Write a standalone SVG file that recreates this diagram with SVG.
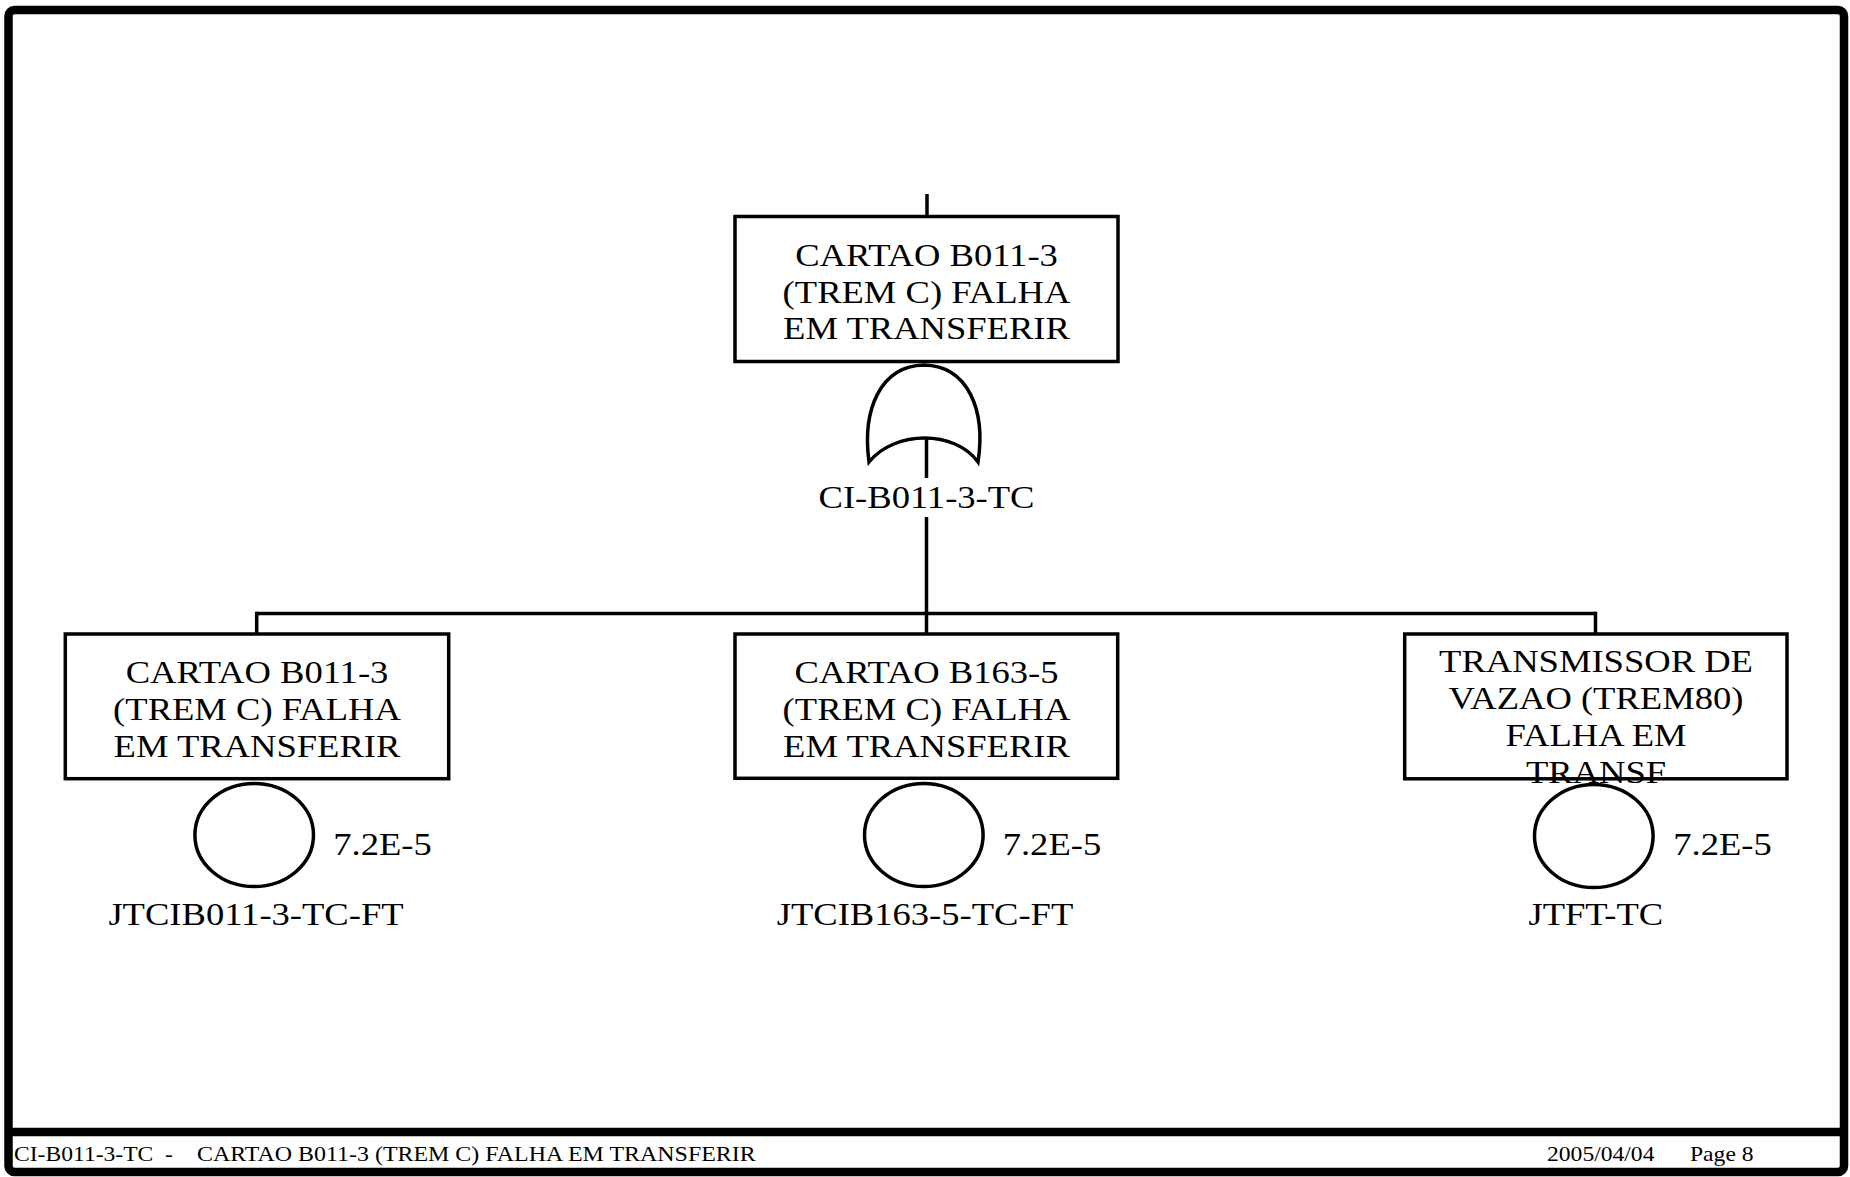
<svg xmlns="http://www.w3.org/2000/svg" width="1850" height="1177" viewBox="0 0 1850 1177">
<style>
.t{font-family:"Liberation Serif","Times New Roman",serif;font-size:31px;fill:#000;text-anchor:middle}
.l{font-family:"Liberation Serif","Times New Roman",serif;font-size:31px;fill:#000;text-anchor:start}
.f{font-family:"Liberation Serif","Times New Roman",serif;font-size:20px;fill:#000;white-space:pre}
.box{fill:#fff;stroke:#000;stroke-width:3.5}
.ev{fill:#fff;stroke:#000;stroke-width:3.5}
.ln{fill:none;stroke:#000;stroke-width:3.5}
.fr{fill:none;stroke:#000;stroke-width:8.5}
</style>
<rect width="1850" height="1177" fill="#fff"/>
<g id="frame">
<rect class="fr" x="8.5" y="10" width="1835.5" height="1162" rx="6"/>
<line class="fr" x1="8.5" y1="1132" x2="1844" y2="1132"/>
<text class="f" xml:space="preserve" transform="matrix(1.18 0 0 1 14 0)" x="0" y="1161">CI-B011-3-TC  -</text>
<text class="f" transform="matrix(1.18 0 0 1 197 0)" x="0" y="1161" textLength="473.5" lengthAdjust="spacingAndGlyphs">CARTAO B011-3 (TREM C) FALHA EM TRANSFERIR</text>
<text class="f" transform="matrix(1.18 0 0 1 1547 0)" x="0" y="1161">2005/04/04</text>
<text class="f" transform="matrix(1.18 0 0 1 1690 0)" x="0" y="1161">Page 8</text>
</g>
<g id="connectors">
<line class="ln" x1="927" y1="194" x2="927" y2="216.5"/>
<line class="ln" x1="926.5" y1="517" x2="926.5" y2="613.5"/>
<line class="ln" x1="256.7" y1="613.5" x2="1595.5" y2="613.5"/>
<line class="ln" x1="256.7" y1="611.7" x2="256.7" y2="634"/>
<line class="ln" x1="926.5" y1="611.7" x2="926.5" y2="634"/>
<line class="ln" x1="1595.5" y1="611.7" x2="1595.5" y2="634"/>
</g>
<g id="top-event">
<rect class="box" x="735" y="216.5" width="383" height="145"/>
<text class="t" transform="matrix(1.18 0 0 1 926.5 0)" x="0" y="266.5">CARTAO B011-3</text>
<text class="t" transform="matrix(1.18 0 0 1 926.5 0)" x="0" y="303">(TREM C) FALHA</text>
<text class="t" transform="matrix(1.18 0 0 1 926.5 0)" x="0" y="339.5">EM TRANSFERIR</text>
</g>
<g id="or-gate">
<path class="ln" d="M 869 462 C 862 410 880 366 924 365 C 968 366 986 410 978 462 C 955 430 895 430 869 462 Z" fill="#fff"/>
<line class="ln" x1="926.5" y1="437" x2="926.5" y2="478"/>
<text class="t" transform="matrix(1.18 0 0 1 926.5 0)" x="0" y="508">CI-B011-3-TC</text>
</g>
<g id="event-left">
<rect class="box" x="65.3" y="634" width="383.4" height="144.7"/>
<text class="t" transform="matrix(1.18 0 0 1 257 0)" x="0" y="683.5">CARTAO B011-3</text>
<text class="t" transform="matrix(1.18 0 0 1 257 0)" x="0" y="720.5">(TREM C) FALHA</text>
<text class="t" transform="matrix(1.18 0 0 1 257 0)" x="0" y="757.5">EM TRANSFERIR</text>
<ellipse class="ev" cx="254.2" cy="835" rx="59.3" ry="51.6"/>
<text class="l" transform="matrix(1.18 0 0 1 333.3 0)" x="0" y="855">7.2E-5</text>
<text class="t" transform="matrix(1.18 0 0 1 256 0)" x="0" y="925">JTCIB011-3-TC-FT</text>
</g>
<g id="event-middle">
<rect class="box" x="735" y="634" width="382.7" height="144.3"/>
<text class="t" transform="matrix(1.18 0 0 1 926.5 0)" x="0" y="683.5">CARTAO B163-5</text>
<text class="t" transform="matrix(1.18 0 0 1 926.5 0)" x="0" y="720.5">(TREM C) FALHA</text>
<text class="t" transform="matrix(1.18 0 0 1 926.5 0)" x="0" y="757.5">EM TRANSFERIR</text>
<ellipse class="ev" cx="923.8" cy="835" rx="59.3" ry="51.6"/>
<text class="l" transform="matrix(1.18 0 0 1 1002.7 0)" x="0" y="855">7.2E-5</text>
<text class="t" transform="matrix(1.18 0 0 1 925 0)" x="0" y="925">JTCIB163-5-TC-FT</text>
</g>
<g id="event-right">
<rect class="box" x="1404.7" y="634" width="382.3" height="144.8"/>
<text class="t" transform="matrix(1.18 0 0 1 1596 0)" x="0" y="672">TRANSMISSOR DE</text>
<text class="t" transform="matrix(1.18 0 0 1 1596 0)" x="0" y="709">VAZAO (TREM80)</text>
<text class="t" transform="matrix(1.18 0 0 1 1596 0)" x="0" y="746">FALHA EM</text>
<text class="t" transform="matrix(1.18 0 0 1 1596 0)" x="0" y="783">TRANSF</text>
<ellipse class="ev" cx="1593.8" cy="836" rx="59.3" ry="51.6"/>
<text class="l" transform="matrix(1.18 0 0 1 1673.3 0)" x="0" y="855">7.2E-5</text>
<text class="t" transform="matrix(1.18 0 0 1 1595.8 0)" x="0" y="925">JTFT-TC</text>
</g>
</svg>
